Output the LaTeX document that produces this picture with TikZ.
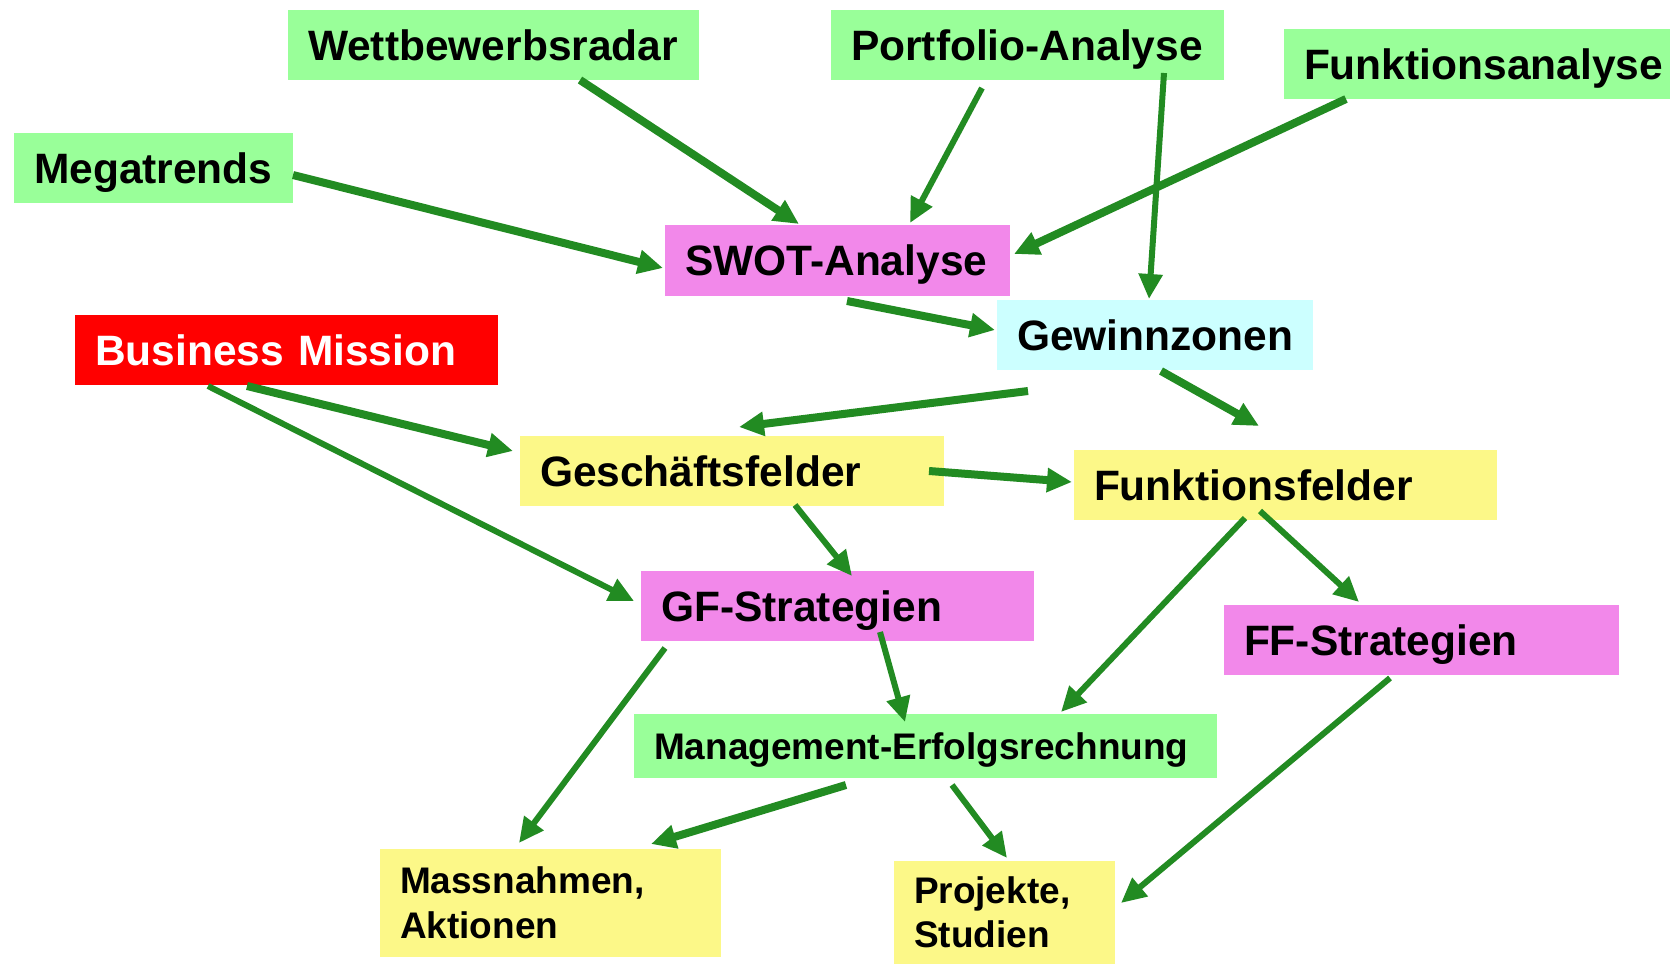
\documentclass[tikz,border=0pt]{standalone}
\usepackage{fontspec}
\setmainfont{Liberation Sans}
\usetikzlibrary{arrows.meta,calc}
\definecolor{boxgreen}{HTML}{99FF99}
\definecolor{boxpink}{HTML}{F288EA}
\definecolor{boxcyan}{HTML}{CCFFFF}
\definecolor{boxyellow}{HTML}{FCF888}
\definecolor{boxred}{HTML}{FF0000}
\definecolor{arrowgreen}{HTML}{228B22}
\begin{document}
\begin{tikzpicture}[x=1pt,y=-1pt,
  box/.style={anchor=north west, inner xsep=20pt, inner ysep=0pt, align=left,
    outer sep=0pt},
  bigtext/.style={font=\bfseries\fontsize{42.5}{51}\selectfont,
    text height=30.4pt, text depth=0pt},
  smalltext/.style={font=\bfseries\fontsize{37}{44.5}\selectfont,
    text height=26.5pt, text depth=0pt},
  twolines/.style={font=\bfseries\fontsize{37}{44.5}\selectfont},
  flow/.style={draw=arrowgreen, line width=8pt,
    -{Triangle[length=25pt,width=23pt]}},
  slim/.style={line width=6pt}
]
\useasboundingbox (0,0) rectangle (1670,964);

% boxes
\node[box, bigtext, fill=boxgreen, minimum width=411pt, minimum height=70pt, text width=371pt] (wett) at (288,10) {Wettbewerbsradar};
\node[box, bigtext, fill=boxgreen, minimum width=393pt, minimum height=70pt, text width=353pt] (port) at (831,10) {Portfolio-Analyse};
\node[box, bigtext, fill=boxgreen, minimum width=386pt, minimum height=70pt, text width=346pt] (funka) at (1284,29) {Funktionsanalyse};
\node[box, bigtext, fill=boxgreen, minimum width=279pt, minimum height=70pt, text width=239pt] (mega) at (14,133) {Megatrends};
\node[box, bigtext, fill=boxpink, minimum width=345pt, minimum height=71pt, text width=305pt] (swot) at (665,225) {SWOT-Analyse};
\node[box, bigtext, fill=boxcyan, minimum width=316pt, minimum height=70pt, text width=276pt] (gewinn) at (997,300) {Gewinnzonen};
\node[box, bigtext, fill=boxred, text=white, minimum width=423pt, minimum height=70pt, text width=383pt] (bm) at (75,315) {Business Mission};
\node[box, bigtext, fill=boxyellow, minimum width=424pt, minimum height=70pt, text width=384pt] (gesch) at (520,436) {Geschäftsfelder};
\node[box, bigtext, fill=boxyellow, minimum width=423pt, minimum height=70pt, text width=383pt] (funkf) at (1074,450) {Funktionsfelder};
\node[box, bigtext, fill=boxpink, minimum width=393pt, minimum height=70pt, text width=353pt] (gfs) at (641,571) {GF-Strategien};
\node[box, bigtext, fill=boxpink, minimum width=395pt, minimum height=70pt, text width=355pt] (ffs) at (1224,605) {FF-Strategien};
\node[box, smalltext, fill=boxgreen, minimum width=583pt, minimum height=64pt, text width=543pt] (mer) at (634,714) {Management-Erfolgsrechnung};
\node[box, twolines, fill=boxyellow, minimum width=341pt, minimum height=108pt, text width=301pt] (mass) at (380,849) {Massnahmen,\\Aktionen};
\node[box, twolines, fill=boxyellow, minimum width=221pt, minimum height=103pt, text width=181pt] (proj) at (894,861) {Projekte,\\Studien};

% connectors
\draw[flow] ($(wett.north west)+(292,70)$) -- ($(swot.north west)+(134,-1)$);
\draw[flow] ($(mega.north west)+(279,42)$) -- ($(swot.north west)+(-2,43)$);
\draw[flow,slim] ($(port.north west)+(151,78)$) -- ($(swot.north west)+(245,-2)$);
\draw[flow,slim] ($(port.north west)+(333,63)$) -- ($(gewinn.north west)+(152,-1)$);
\draw[flow] ($(funka.north west)+(62,70)$) -- ($(swot.north west)+(349,29)$);
\draw[flow] ($(swot.north west)+(182,76)$) -- ($(gewinn.north west)+(-2,30)$);
\draw[flow] ($(gewinn.north west)+(31,91)$) -- ($(gesch.north west)+(219,-9)$);
\draw[flow] ($(gewinn.north west)+(164,71)$) -- ($(funkf.north west)+(185,-24)$);
\draw[flow] ($(bm.north west)+(172,71)$) -- ($(gesch.north west)+(-7,15)$);
\draw[flow,slim] ($(bm.north west)+(133,71)$) -- ($(gfs.north west)+(-7,30)$);
\draw[flow] ($(gesch.north west)+(409,35)$) -- ($(funkf.north west)+(-2,32)$);
\draw[flow,slim] ($(gesch.north west)+(275,69)$) -- ($(gfs.north west)+(211,5)$);
\draw[flow,slim] ($(funkf.north west)+(171,68)$) -- ($(mer.north west)+(427,-2)$);
\draw[flow,slim] ($(funkf.north west)+(186,61)$) -- ($(ffs.north west)+(135,-3)$);
\draw[flow,slim] ($(gfs.north west)+(24,77)$) -- ($(mass.north west)+(139,-6)$);
\draw[flow,slim] ($(gfs.north west)+(239,61)$) -- ($(mer.north west)+(271,8)$);
\draw[flow] ($(mer.north west)+(212,71)$) -- ($(mass.north west)+(271,-5)$);
\draw[flow,slim] ($(mer.north west)+(318,71)$) -- ($(proj.north west)+(113,-3)$);
\draw[flow,slim] ($(ffs.north west)+(166,73)$) -- ($(proj.north west)+(227,42)$);
\end{tikzpicture}
\end{document}
